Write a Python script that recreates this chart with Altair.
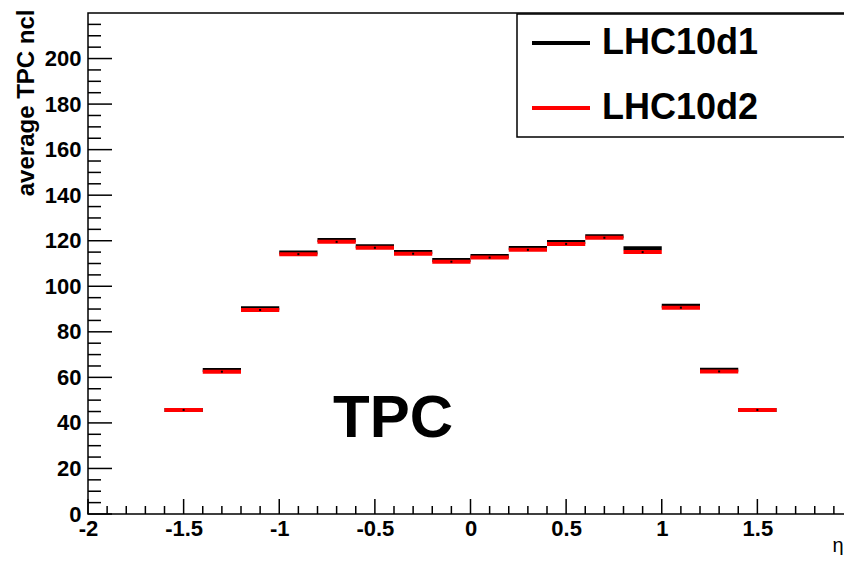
import altair as alt
import pandas as pd

# ---- data ----
bin_low = [-1.6, -1.4, -1.2, -1.0, -0.8, -0.6, -0.4, -0.2, 0.0, 0.2, 0.4, 0.6, 0.8, 1.0, 1.2, 1.4]
bin_high = [-1.4, -1.2, -1.0, -0.8, -0.6, -0.4, -0.2, 0.0, 0.2, 0.4, 0.6, 0.8, 1.0, 1.2, 1.4, 1.6]
lhc10d1 = [45.7, 63.2, 90.3, 114.8, 120.3, 117.6, 115.0, 111.5, 113.3, 116.8, 119.4, 122.0, 116.7, 91.4, 63.3, 45.7]
lhc10d2 = [45.7, 62.5, 89.6, 114.1, 119.5, 116.9, 114.3, 110.8, 112.6, 116.0, 118.6, 121.3, 115.0, 90.6, 62.6, 45.7]
series_names = ["LHC10d1", "LHC10d2"]
series_colors = ["#000000", "#ff0000"]

x_major = [-2, -1.5, -1, -0.5, 0, 0.5, 1, 1.5, 2]
y_major = [0, 20, 40, 60, 80, 100, 120, 140, 160, 180, 200]
x_minor = [round(-2 + 0.1 * i, 1) for i in range(41) if i % 5]
y_minor = [5 * i for i in range(44) if i % 4]

W, H = 765, 501
FONT = "Liberation Sans"

rows = []
for name, vals in zip(series_names, [lhc10d1, lhc10d2]):
    for lo, hi, v in zip(bin_low, bin_high, vals):
        rows.append({"series": name, "lo": lo, "hi": hi, "val": v, "mid": (lo + hi) / 2})
df = pd.DataFrame(rows)

xs = alt.Scale(domain=[-2, 2], nice=False, zero=False)
ys = alt.Scale(domain=[0, 220], nice=False, zero=False)

x_axis = alt.Axis(
    values=x_major, labelExpr="'' + datum.value", ticks=False, tickSize=0, domain=False,
    grid=False, labelFont=FONT, labelFontSize=22, labelFontWeight="bold", labelColor="black",
    labelPadding=4, labelOverlap=False, labelFlush=False,
    title="η", titleFont=FONT, titleFontSize=20, titleFontWeight="normal", titleColor="black",
    titleX=755, titleY=37, titleAlign="right", titleBaseline="alphabetic", titleAnchor="end",
)
y_axis = alt.Axis(
    values=y_major, labelExpr="'' + datum.value", ticks=False, tickSize=0, domain=False,
    grid=False, labelFont=FONT, labelFontSize=22, labelFontWeight="bold", labelColor="black",
    labelPadding=7, labelOverlap=False, labelFlush=False,
    title="average TPC ncl", titleFont=FONT, titleFontSize=24, titleFontWeight="bold",
    titleColor="black", titleX=-55, titleY=-4, titleAngle=270, titleAlign="right",
    titleBaseline="alphabetic", titleAnchor="end",
)

legend_box = alt.Chart(pd.DataFrame({"a": [0]})).mark_rect(
    fill="white", stroke="black", strokeWidth=1.5
).encode(x=alt.value(429), x2=alt.value(W + 30), y=alt.value(1), y2=alt.value(124))

hist = alt.Chart(df).mark_rule(strokeWidth=4, strokeCap="butt").encode(
    x=alt.X("lo:Q", scale=xs, axis=x_axis),
    x2="hi:Q",
    y=alt.Y("val:Q", scale=ys, axis=y_axis),
    color=alt.Color(
        "series:N",
        scale=alt.Scale(domain=series_names, range=series_colors),
        legend=alt.Legend(
            title=None, orient="none", legendX=442, legendY=-1,
            symbolType="stroke", symbolStrokeWidth=4, symbolSize=3364,
            labelFont=FONT, labelFontSize=36, labelFontWeight="bold", labelColor="black",
            labelOffset=10, rowPadding=16, padding=0, labelLimit=500,
        ),
    ),
)

markers = alt.Chart(df[df["series"] == "LHC10d2"]).mark_square(
    size=4, color="black", opacity=1
).encode(
    x=alt.X("mid:Q", scale=xs, axis=x_axis),
    y=alt.Y("val:Q", scale=ys, axis=y_axis),
)

xt_major = alt.Chart(pd.DataFrame({"t": x_major})).mark_rule(color="black", strokeWidth=1.5).encode(
    x=alt.X("t:Q", scale=xs, axis=x_axis), y=alt.value(H), y2=alt.value(H - 15)
)
xt_minor = alt.Chart(pd.DataFrame({"t": x_minor})).mark_rule(color="black", strokeWidth=1.5).encode(
    x=alt.X("t:Q", scale=xs, axis=x_axis), y=alt.value(H), y2=alt.value(H - 8)
)
yt_major = alt.Chart(pd.DataFrame({"t": y_major})).mark_rule(color="black", strokeWidth=1.5).encode(
    y=alt.Y("t:Q", scale=ys, axis=y_axis), x=alt.value(0), x2=alt.value(24)
)
yt_minor = alt.Chart(pd.DataFrame({"t": y_minor})).mark_rule(color="black", strokeWidth=1.5).encode(
    y=alt.Y("t:Q", scale=ys, axis=y_axis), x=alt.value(0), x2=alt.value(13)
)

tpc = alt.Chart(pd.DataFrame({"a": [0]})).mark_text(
    text="TPC", font=FONT, fontSize=60, fontWeight="bold", color="black",
    align="center", baseline="alphabetic",
).encode(x=alt.value(305), y=alt.value(424))

chart = alt.layer(
    legend_box, xt_major, xt_minor, yt_major, yt_minor, hist, markers, tpc
).properties(
    width=W, height=H,
    autosize=alt.AutoSizeParams(type="none"),
    padding={"left": 80, "top": 5, "right": -9, "bottom": 41},
    background="white",
).configure_view(stroke="black", strokeWidth=1.5).configure_axis(
    labelFont=FONT, labelFontSize=22, labelFontWeight="bold"
)

chart.save("out.html", embed_options={"renderer": "svg", "actions": False})
